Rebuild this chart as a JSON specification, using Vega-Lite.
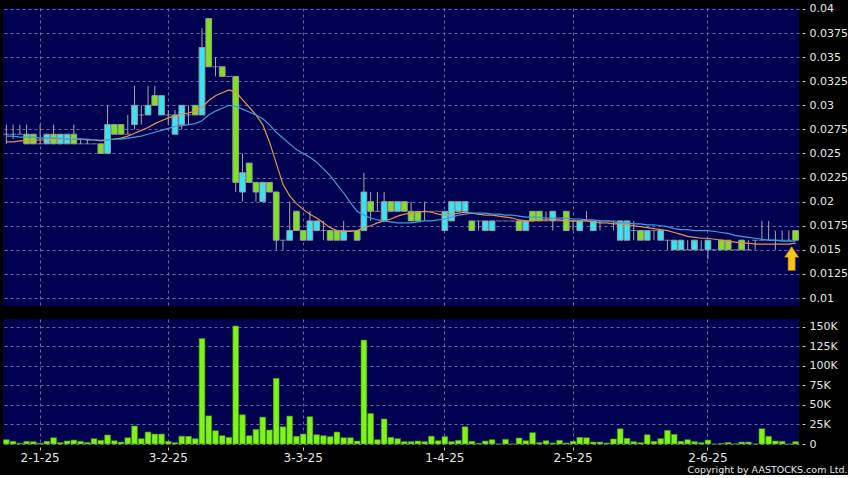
{
"$schema": "https://vega.github.io/schema/vega-lite/v6.json",
"background": "black",
"padding": {"left": 3, "top": 2, "right": 0, "bottom": 0},
"spacing": 13,
"config": {
  "view": {"stroke": null, "fill": "#000050"},
  "axis": {"labelColor": "#e6e6e6", "labelFont": "DejaVu Sans", "labelFontSize": 11, "labelOverlap": false, "tickColor": "#c8c8c8", "gridColor": "#6a6aa0", "gridDash": [3, 3], "gridWidth": 1, "domain": false, "title": null}
},
"title": {"text": "Copyright by AASTOCKS.com Ltd.", "orient": "bottom", "anchor": "end", "frame": "bounds", "font": "DejaVu Sans", "fontSize": 9.5, "fontWeight": "normal", "color": "#e6e6e6", "offset": 2},
"data": {"values": [
{"d":"2024-12-23","o":0.027,"c":0.027,"h":0.028,"l":0.026,"v":5500,"m1":0.0262,"m2":0.0268},
{"d":"2024-12-24","o":0.027,"c":0.027,"h":0.028,"l":0.0265,"v":3400,"m1":0.0262,"m2":0.0268},
{"d":"2024-12-27","o":0.027,"c":0.027,"h":0.028,"l":0.027,"v":1000,"m1":0.0263,"m2":0.0267},
{"d":"2024-12-30","o":0.027,"c":0.026,"h":0.028,"l":0.026,"v":3400,"m1":0.0263,"m2":0.0267},
{"d":"2024-12-31","o":0.027,"c":0.026,"h":0.027,"l":0.026,"v":3000,"m1":0.0264,"m2":0.0267},
{"d":"2025-01-02","o":0.026,"c":0.026,"h":0.028,"l":0.026,"v":1000,"m1":0.0264,"m2":0.0266},
{"d":"2025-01-03","o":0.026,"c":0.027,"h":0.027,"l":0.026,"v":3400,"m1":0.0264,"m2":0.0266},
{"d":"2025-01-06","o":0.027,"c":0.026,"h":0.028,"l":0.026,"v":8000,"m1":0.0265,"m2":0.0266},
{"d":"2025-01-07","o":0.026,"c":0.027,"h":0.027,"l":0.026,"v":1700,"m1":0.0265,"m2":0.0266},
{"d":"2025-01-08","o":0.026,"c":0.027,"h":0.027,"l":0.026,"v":3800,"m1":0.0265,"m2":0.0265},
{"d":"2025-01-09","o":0.027,"c":0.026,"h":0.028,"l":0.026,"v":5000,"m1":0.0265,"m2":0.0265},
{"d":"2025-01-10","o":0.026,"c":0.026,"h":0.0265,"l":0.026,"v":3400,"m1":0.0265,"m2":0.0265},
{"d":"2025-01-13","o":0.026,"c":0.026,"h":0.0265,"l":0.026,"v":2000,"m1":0.0264,"m2":0.0265},
{"d":"2025-01-14","o":0.026,"c":0.026,"h":0.026,"l":0.026,"v":6800,"m1":0.0264,"m2":0.0264},
{"d":"2025-01-15","o":0.026,"c":0.025,"h":0.026,"l":0.025,"v":4700,"m1":0.0263,"m2":0.0264},
{"d":"2025-01-16","o":0.025,"c":0.028,"h":0.030,"l":0.025,"v":11500,"m1":0.0264,"m2":0.0264},
{"d":"2025-01-17","o":0.028,"c":0.027,"h":0.028,"l":0.027,"v":4200,"m1":0.0265,"m2":0.0265},
{"d":"2025-01-20","o":0.028,"c":0.027,"h":0.028,"l":0.027,"v":2500,"m1":0.0266,"m2":0.0265},
{"d":"2025-01-21","o":0.027,"c":0.027,"h":0.029,"l":0.027,"v":8000,"m1":0.0268,"m2":0.0266},
{"d":"2025-01-22","o":0.028,"c":0.030,"h":0.032,"l":0.0275,"v":23000,"m1":0.0271,"m2":0.0267},
{"d":"2025-01-23","o":0.029,"c":0.029,"h":0.030,"l":0.028,"v":6800,"m1":0.0274,"m2":0.0268},
{"d":"2025-01-24","o":0.029,"c":0.030,"h":0.032,"l":0.029,"v":15300,"m1":0.0277,"m2":0.027},
{"d":"2025-01-27","o":0.031,"c":0.030,"h":0.032,"l":0.030,"v":12700,"m1":0.0281,"m2":0.0272},
{"d":"2025-01-28","o":0.029,"c":0.031,"h":0.031,"l":0.029,"v":12700,"m1":0.0284,"m2":0.0274},
{"d":"2025-02-03","o":0.029,"c":0.029,"h":0.0295,"l":0.028,"v":3400,"m1":0.0287,"m2":0.0276},
{"d":"2025-02-04","o":0.027,"c":0.029,"h":0.0295,"l":0.027,"v":1700,"m1":0.0289,"m2":0.0278},
{"d":"2025-02-05","o":0.028,"c":0.030,"h":0.030,"l":0.0275,"v":10000,"m1":0.0291,"m2":0.0279},
{"d":"2025-02-06","o":0.029,"c":0.029,"h":0.030,"l":0.028,"v":9800,"m1":0.0292,"m2":0.028},
{"d":"2025-02-07","o":0.030,"c":0.029,"h":0.030,"l":0.029,"v":6800,"m1":0.0294,"m2":0.0281},
{"d":"2025-02-10","o":0.029,"c":0.036,"h":0.038,"l":0.029,"v":135000,"m1":0.0298,"m2":0.0284},
{"d":"2025-02-11","o":0.039,"c":0.034,"h":0.039,"l":0.034,"v":36000,"m1":0.0305,"m2":0.029},
{"d":"2025-02-12","o":0.034,"c":0.034,"h":0.035,"l":0.033,"v":17000,"m1":0.031,"m2":0.0294},
{"d":"2025-02-13","o":0.034,"c":0.033,"h":0.034,"l":0.033,"v":10600,"m1":0.0313,"m2":0.0297},
{"d":"2025-02-14","o":0.033,"c":0.033,"h":0.033,"l":0.033,"v":8500,"m1":0.0316,"m2":0.03},
{"d":"2025-02-17","o":0.033,"c":0.022,"h":0.033,"l":0.021,"v":151000,"m1":0.0314,"m2":0.0299},
{"d":"2025-02-18","o":0.021,"c":0.023,"h":0.025,"l":0.020,"v":37400,"m1":0.0306,"m2":0.0296},
{"d":"2025-02-19","o":0.024,"c":0.022,"h":0.024,"l":0.022,"v":10600,"m1":0.0298,"m2":0.0293},
{"d":"2025-02-20","o":0.022,"c":0.021,"h":0.022,"l":0.020,"v":18700,"m1":0.029,"m2":0.029},
{"d":"2025-02-21","o":0.020,"c":0.022,"h":0.022,"l":0.020,"v":34400,"m1":0.028,"m2":0.0286},
{"d":"2025-02-24","o":0.022,"c":0.021,"h":0.022,"l":0.021,"v":17900,"m1":0.0262,"m2":0.028},
{"d":"2025-02-25","o":0.021,"c":0.016,"h":0.021,"l":0.015,"v":84000,"m1":0.024,"m2":0.0272},
{"d":"2025-02-26","o":0.016,"c":0.016,"h":0.016,"l":0.015,"v":22000,"m1":0.0218,"m2":0.0266},
{"d":"2025-02-27","o":0.016,"c":0.017,"h":0.020,"l":0.016,"v":35700,"m1":0.0206,"m2":0.026},
{"d":"2025-02-28","o":0.019,"c":0.017,"h":0.019,"l":0.017,"v":9800,"m1":0.0198,"m2":0.0254},
{"d":"2025-03-03","o":0.017,"c":0.016,"h":0.017,"l":0.016,"v":12700,"m1":0.0192,"m2":0.025},
{"d":"2025-03-04","o":0.016,"c":0.018,"h":0.019,"l":0.016,"v":34900,"m1":0.0187,"m2":0.0246},
{"d":"2025-03-05","o":0.017,"c":0.018,"h":0.018,"l":0.017,"v":11900,"m1":0.0183,"m2":0.0241},
{"d":"2025-03-06","o":0.017,"c":0.017,"h":0.018,"l":0.016,"v":10600,"m1":0.0178,"m2":0.0234},
{"d":"2025-03-07","o":0.017,"c":0.016,"h":0.017,"l":0.016,"v":9400,"m1":0.0173,"m2":0.0227},
{"d":"2025-03-10","o":0.017,"c":0.016,"h":0.017,"l":0.016,"v":15300,"m1":0.017,"m2":0.0218},
{"d":"2025-03-11","o":0.016,"c":0.017,"h":0.018,"l":0.016,"v":8000,"m1":0.0169,"m2":0.0209},
{"d":"2025-03-12","o":0.017,"c":0.017,"h":0.017,"l":0.017,"v":8000,"m1":0.0169,"m2":0.0199},
{"d":"2025-03-13","o":0.017,"c":0.016,"h":0.017,"l":0.016,"v":3800,"m1":0.017,"m2":0.019},
{"d":"2025-03-14","o":0.017,"c":0.021,"h":0.023,"l":0.017,"v":133000,"m1":0.0173,"m2":0.0186},
{"d":"2025-03-17","o":0.020,"c":0.019,"h":0.021,"l":0.018,"v":39000,"m1":0.0175,"m2":0.0183},
{"d":"2025-03-18","o":0.019,"c":0.019,"h":0.021,"l":0.019,"v":5500,"m1":0.0178,"m2":0.0181},
{"d":"2025-03-19","o":0.018,"c":0.020,"h":0.021,"l":0.018,"v":32000,"m1":0.018,"m2":0.018},
{"d":"2025-03-20","o":0.020,"c":0.019,"h":0.020,"l":0.019,"v":8500,"m1":0.0182,"m2":0.0179},
{"d":"2025-03-21","o":0.019,"c":0.020,"h":0.020,"l":0.019,"v":6800,"m1":0.0185,"m2":0.0178},
{"d":"2025-03-24","o":0.020,"c":0.019,"h":0.020,"l":0.019,"v":3000,"m1":0.0187,"m2":0.0178},
{"d":"2025-03-25","o":0.019,"c":0.018,"h":0.020,"l":0.018,"v":3000,"m1":0.0188,"m2":0.0178},
{"d":"2025-03-26","o":0.019,"c":0.018,"h":0.019,"l":0.018,"v":3800,"m1":0.0189,"m2":0.0179},
{"d":"2025-03-27","o":0.019,"c":0.019,"h":0.020,"l":0.018,"v":3000,"m1":0.019,"m2":0.018},
{"d":"2025-03-28","o":0.019,"c":0.019,"h":0.019,"l":0.019,"v":10000,"m1":0.0189,"m2":0.018},
{"d":"2025-03-31","o":0.019,"c":0.019,"h":0.019,"l":0.019,"v":4200,"m1":0.0187,"m2":0.0181},
{"d":"2025-04-01","o":0.017,"c":0.019,"h":0.019,"l":0.017,"v":9400,"m1":0.0186,"m2":0.0182},
{"d":"2025-04-02","o":0.018,"c":0.020,"h":0.020,"l":0.018,"v":3000,"m1":0.0187,"m2":0.0184},
{"d":"2025-04-03","o":0.019,"c":0.020,"h":0.020,"l":0.019,"v":4700,"m1":0.0188,"m2":0.0186},
{"d":"2025-04-07","o":0.019,"c":0.020,"h":0.020,"l":0.019,"v":22000,"m1":0.0189,"m2":0.0187},
{"d":"2025-04-08","o":0.018,"c":0.017,"h":0.018,"l":0.017,"v":3400,"m1":0.0188,"m2":0.0188},
{"d":"2025-04-09","o":0.018,"c":0.018,"h":0.018,"l":0.017,"v":900,"m1":0.0187,"m2":0.0188},
{"d":"2025-04-10","o":0.017,"c":0.018,"h":0.018,"l":0.017,"v":3800,"m1":0.0186,"m2":0.0188},
{"d":"2025-04-11","o":0.017,"c":0.018,"h":0.018,"l":0.017,"v":5500,"m1":0.0186,"m2":0.0187},
{"d":"2025-04-14","o":0.018,"c":0.018,"h":0.018,"l":0.018,"v":0,"m1":0.0185,"m2":0.0187},
{"d":"2025-04-15","o":0.018,"c":0.018,"h":0.018,"l":0.018,"v":6000,"m1":0.0184,"m2":0.0186},
{"d":"2025-04-16","o":0.018,"c":0.018,"h":0.018,"l":0.018,"v":0,"m1":0.0183,"m2":0.0186},
{"d":"2025-04-17","o":0.018,"c":0.017,"h":0.018,"l":0.017,"v":7700,"m1":0.0181,"m2":0.0185},
{"d":"2025-04-22","o":0.017,"c":0.018,"h":0.018,"l":0.017,"v":4200,"m1":0.018,"m2":0.0184},
{"d":"2025-04-23","o":0.019,"c":0.018,"h":0.019,"l":0.018,"v":14500,"m1":0.018,"m2":0.0184},
{"d":"2025-04-24","o":0.019,"c":0.018,"h":0.019,"l":0.018,"v":1700,"m1":0.0181,"m2":0.0184},
{"d":"2025-04-25","o":0.018,"c":0.018,"h":0.019,"l":0.018,"v":4200,"m1":0.0181,"m2":0.0183},
{"d":"2025-04-28","o":0.018,"c":0.019,"h":0.019,"l":0.017,"v":1300,"m1":0.0181,"m2":0.0183},
{"d":"2025-04-29","o":0.018,"c":0.018,"h":0.018,"l":0.018,"v":4700,"m1":0.0181,"m2":0.0183},
{"d":"2025-04-30","o":0.019,"c":0.017,"h":0.019,"l":0.017,"v":1300,"m1":0.018,"m2":0.0183},
{"d":"2025-05-02","o":0.018,"c":0.018,"h":0.018,"l":0.017,"v":3400,"m1":0.018,"m2":0.0182},
{"d":"2025-05-06","o":0.017,"c":0.018,"h":0.018,"l":0.017,"v":8500,"m1":0.018,"m2":0.0182},
{"d":"2025-05-07","o":0.018,"c":0.018,"h":0.019,"l":0.018,"v":8000,"m1":0.018,"m2":0.0181},
{"d":"2025-05-08","o":0.017,"c":0.018,"h":0.018,"l":0.017,"v":2500,"m1":0.0179,"m2":0.0181},
{"d":"2025-05-09","o":0.018,"c":0.018,"h":0.018,"l":0.017,"v":2500,"m1":0.0178,"m2":0.018},
{"d":"2025-05-12","o":0.018,"c":0.018,"h":0.018,"l":0.018,"v":1300,"m1":0.0178,"m2":0.018},
{"d":"2025-05-13","o":0.018,"c":0.018,"h":0.018,"l":0.017,"v":6400,"m1":0.0177,"m2":0.0179},
{"d":"2025-05-14","o":0.016,"c":0.018,"h":0.018,"l":0.016,"v":19500,"m1":0.0177,"m2":0.0178},
{"d":"2025-05-15","o":0.016,"c":0.018,"h":0.018,"l":0.016,"v":7200,"m1":0.0176,"m2":0.0178},
{"d":"2025-05-16","o":0.017,"c":0.017,"h":0.018,"l":0.016,"v":3000,"m1":0.0175,"m2":0.0177},
{"d":"2025-05-19","o":0.017,"c":0.016,"h":0.017,"l":0.016,"v":1700,"m1":0.0174,"m2":0.0177},
{"d":"2025-05-20","o":0.016,"c":0.017,"h":0.017,"l":0.016,"v":11900,"m1":0.0173,"m2":0.0176},
{"d":"2025-05-21","o":0.017,"c":0.017,"h":0.017,"l":0.016,"v":3400,"m1":0.0172,"m2":0.0176},
{"d":"2025-05-22","o":0.016,"c":0.017,"h":0.017,"l":0.016,"v":6800,"m1":0.0171,"m2":0.0175},
{"d":"2025-05-23","o":0.016,"c":0.016,"h":0.016,"l":0.015,"v":17400,"m1":0.017,"m2":0.0174},
{"d":"2025-05-26","o":0.015,"c":0.016,"h":0.016,"l":0.015,"v":12300,"m1":0.0168,"m2":0.0172},
{"d":"2025-05-27","o":0.015,"c":0.016,"h":0.016,"l":0.015,"v":3400,"m1":0.0166,"m2":0.0171},
{"d":"2025-05-28","o":0.015,"c":0.015,"h":0.016,"l":0.015,"v":5500,"m1":0.0164,"m2":0.0171},
{"d":"2025-05-29","o":0.015,"c":0.016,"h":0.016,"l":0.015,"v":3000,"m1":0.0163,"m2":0.017},
{"d":"2025-05-30","o":0.015,"c":0.015,"h":0.016,"l":0.015,"v":1700,"m1":0.0162,"m2":0.017},
{"d":"2025-06-02","o":0.015,"c":0.016,"h":0.016,"l":0.014,"v":5000,"m1":0.0162,"m2":0.017},
{"d":"2025-06-03","o":0.015,"c":0.015,"h":0.015,"l":0.015,"v":0,"m1":0.0161,"m2":0.0169},
{"d":"2025-06-04","o":0.016,"c":0.015,"h":0.016,"l":0.015,"v":800,"m1":0.016,"m2":0.0168},
{"d":"2025-06-05","o":0.016,"c":0.015,"h":0.016,"l":0.015,"v":2000,"m1":0.0159,"m2":0.0167},
{"d":"2025-06-06","o":0.015,"c":0.015,"h":0.015,"l":0.015,"v":0,"m1":0.0158,"m2":0.0165},
{"d":"2025-06-09","o":0.016,"c":0.015,"h":0.016,"l":0.015,"v":2500,"m1":0.0157,"m2":0.0164},
{"d":"2025-06-10","o":0.015,"c":0.015,"h":0.016,"l":0.015,"v":2500,"m1":0.0157,"m2":0.0163},
{"d":"2025-06-11","o":0.016,"c":0.016,"h":0.016,"l":0.015,"v":0,"m1":0.0156,"m2":0.0162},
{"d":"2025-06-12","o":0.016,"c":0.016,"h":0.018,"l":0.016,"v":19500,"m1":0.0156,"m2":0.0161},
{"d":"2025-06-13","o":0.016,"c":0.016,"h":0.018,"l":0.016,"v":9800,"m1":0.0156,"m2":0.016},
{"d":"2025-06-16","o":0.016,"c":0.016,"h":0.017,"l":0.015,"v":3800,"m1":0.0156,"m2":0.016},
{"d":"2025-06-17","o":0.016,"c":0.016,"h":0.017,"l":0.016,"v":3400,"m1":0.0156,"m2":0.0159},
{"d":"2025-06-18","o":0.016,"c":0.016,"h":0.017,"l":0.016,"v":0,"m1":0.0156,"m2":0.0159},
{"d":"2025-06-19","o":0.017,"c":0.016,"h":0.017,"l":0.016,"v":3000,"m1":0.0157,"m2":0.0159,"arrow":0.0141}
]},
"vconcat": [
{
  "width": 796, "height": 298,
  "encoding": {
    "x": {"field": "d", "type": "ordinal", "scale": {"paddingInner": 0, "paddingOuter": 0},
      "axis": {"orient": "bottom", "labels": false, "ticks": false, "grid": true, "bandPosition": 0.5,
        "values": ["2025-01-02","2025-02-03","2025-03-03","2025-04-01","2025-05-02","2025-06-02"]}}
  },
  "layer": [
    {"mark": {"type": "rule", "color": "#a8a8a8", "strokeWidth": 1},
     "encoding": {
       "y": {"field": "l", "type": "quantitative", "scale": {"domain": [0.00917, 0.0401], "nice": false, "zero": false},
         "axis": {"orient": "right", "values": [0.01,0.0125,0.015,0.0175,0.02,0.0225,0.025,0.0275,0.03,0.0325,0.035,0.0375,0.04], "labelExpr": "'' + datum.value", "grid": true, "offset": 3, "tickSize": 3, "labelPadding": 4}},
       "y2": {"field": "h"}}},
    {"transform": [{"filter": "datum.o != datum.c"}],
     "mark": {"type": "bar", "width": {"band": 0.85}, "stroke": "#9a9a9a", "strokeWidth": 1},
     "encoding": {
       "y": {"field": "o", "type": "quantitative", "scale": {"domain": [0.00917, 0.0401], "nice": false, "zero": false},
         "axis": {"orient": "right", "values": [0.01,0.0125,0.015,0.0175,0.02,0.0225,0.025,0.0275,0.03,0.0325,0.035,0.0375,0.04], "labelExpr": "'' + datum.value", "grid": true, "offset": 3, "tickSize": 3, "labelPadding": 4}},
       "y2": {"field": "c"},
       "fill": {"condition": {"test": "datum.c > datum.o", "value": "#36e4f4"}, "value": "#7ee21e"}}},
    {"transform": [{"filter": "datum.o == datum.c"}],
     "mark": {"type": "tick", "color": "#b4b4b4", "thickness": 1, "size": 6, "orient": "horizontal"},
     "encoding": {
       "y": {"field": "c", "type": "quantitative", "scale": {"domain": [0.00917, 0.0401], "nice": false, "zero": false},
         "axis": {"orient": "right", "values": [0.01,0.0125,0.015,0.0175,0.02,0.0225,0.025,0.0275,0.03,0.0325,0.035,0.0375,0.04], "labelExpr": "'' + datum.value", "grid": true, "offset": 3, "tickSize": 3, "labelPadding": 4}}}},
    {"mark": {"type": "line", "color": "#e8904c", "strokeWidth": 1.2},
     "encoding": {
       "y": {"field": "m1", "type": "quantitative", "scale": {"domain": [0.00917, 0.0401], "nice": false, "zero": false},
         "axis": {"orient": "right", "values": [0.01,0.0125,0.015,0.0175,0.02,0.0225,0.025,0.0275,0.03,0.0325,0.035,0.0375,0.04], "labelExpr": "'' + datum.value", "grid": true, "offset": 3, "tickSize": 3, "labelPadding": 4}}}},
    {"mark": {"type": "line", "color": "#3a9fe2", "strokeWidth": 1.2},
     "encoding": {
       "y": {"field": "m2", "type": "quantitative", "scale": {"domain": [0.00917, 0.0401], "nice": false, "zero": false},
         "axis": {"orient": "right", "values": [0.01,0.0125,0.015,0.0175,0.02,0.0225,0.025,0.0275,0.03,0.0325,0.035,0.0375,0.04], "labelExpr": "'' + datum.value", "grid": true, "offset": 3, "tickSize": 3, "labelPadding": 4}}}},
    {"transform": [{"filter": "isValid(datum.arrow)"}],
     "mark": {"type": "point", "filled": true, "shape": "M0,-1L0.6,-0.1L0.3,-0.1L0.3,1L-0.3,1L-0.3,-0.1L-0.6,-0.1Z", "size": 576, "fill": "#f5c518", "stroke": "#8a6a00", "strokeWidth": 0.6, "opacity": 1, "xOffset": -4},
     "encoding": {
       "y": {"field": "arrow", "type": "quantitative", "scale": {"domain": [0.00917, 0.0401], "nice": false, "zero": false},
         "axis": {"orient": "right", "values": [0.01,0.0125,0.015,0.0175,0.02,0.0225,0.025,0.0275,0.03,0.0325,0.035,0.0375,0.04], "labelExpr": "'' + datum.value", "grid": true, "offset": 3, "tickSize": 3, "labelPadding": 4}}}}
  ]
},
{
  "width": 796, "height": 125,
  "mark": {"type": "bar", "width": {"band": 0.85}, "fill": "#7ef41a", "stroke": "#4c9a10", "strokeWidth": 0.6},
  "encoding": {
    "x": {"field": "d", "type": "ordinal", "scale": {"paddingInner": 0, "paddingOuter": 0},
      "axis": {"orient": "bottom", "grid": true, "bandPosition": 0.5, "labelAngle": 0, "labelFontSize": 12, "offset": 3, "tickSize": 3, "labelPadding": 2,
        "values": ["2025-01-02","2025-02-03","2025-03-03","2025-04-01","2025-05-02","2025-06-02"],
        "labelExpr": "parseInt(slice(datum.value,8,10)) + '-' + parseInt(slice(datum.value,5,7)) + '-' + slice(datum.value,2,4)"}},
    "y": {"field": "v", "type": "quantitative", "scale": {"domain": [0, 160000], "nice": false},
      "axis": {"orient": "right", "values": [0,25000,50000,75000,100000,125000,150000], "grid": true, "offset": 3, "tickSize": 3, "labelPadding": 4,
        "labelExpr": "datum.value == 0 ? '0' : (datum.value/1000) + 'K'"}}
  }
}
]
}
